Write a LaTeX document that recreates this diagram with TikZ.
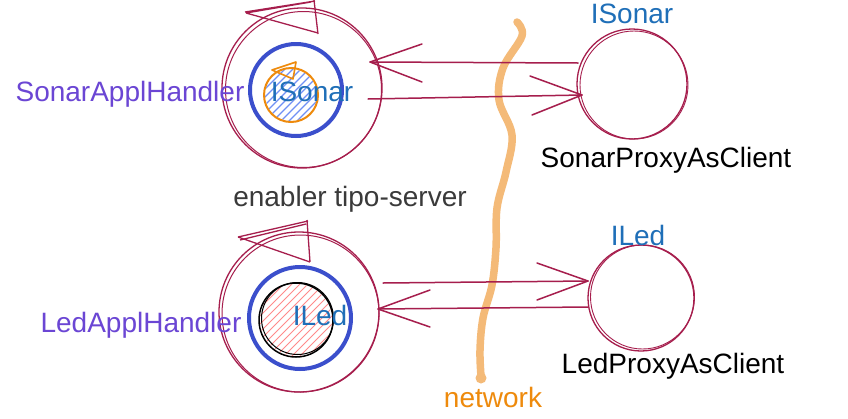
\documentclass[tikz,border=0pt]{standalone}
\usepackage{fontspec}
\setmainfont{Liberation Sans}
\usetikzlibrary{calc}
\definecolor{crim}{HTML}{A61E4D}
\definecolor{bluec}{HTML}{3B4FCC}
\definecolor{lblue}{HTML}{1F6FB8}
\definecolor{purp}{HTML}{6B46D4}
\definecolor{orng}{HTML}{EE8A0C}
\definecolor{netc}{HTML}{F4BA78}
\definecolor{hblue}{HTML}{7090F5}
\definecolor{hred}{HTML}{FF8A8A}
\definecolor{gtxt}{HTML}{3A3A3A}
\begin{document}
\begin{tikzpicture}[x=1pt,y=-1pt,
  font=\fontsize{28}{32}\selectfont,
  ring/.style={circle, draw=crim, line width=1.3pt, inner sep=0pt},
  sk/.style={crim, line width=1.3pt},
  arr/.style={crim, line width=1.5pt, line cap=round},
  lbl/.style={anchor=base, inner sep=0pt},
  hatchb/.style={hblue, line width=1.1pt},
  hatchr/.style={hred, line width=0.9pt}]
\useasboundingbox (0,0) rectangle (848,418);
\fill[white] (0,0) rectangle (848,418);

% ---------- network line ----------
\draw[netc, line width=7.5pt, line cap=round, line join=round]
  plot[smooth, tension=0.6] coordinates {(517,22) (522,36) (503,68) (499,100) (512,135) (506,172) (497,208) (496,248) (492,285) (483,318) (480,350) (481,376)};
\fill[netc] (481,378) circle (5.5);

% ---------- top left : SonarApplHandler ----------
\node[ring, minimum size=160pt] (sh) at (302,88) {};
\draw[sk, line width=1pt] (303.5,89.5) circle (78);
\draw[sk] (246,13) -- (318,33) (246,13) -- (311,2) (314,0) -- (318,34) (245,12) -- (315,1);
\node[circle, draw=bluec, line width=4pt, minimum size=92pt, inner sep=0pt] (sb) at (296,90) {};
\begin{scope}
  \clip (291,95) circle (26);
  \foreach \i in {-64,-56,...,64}
    \draw[hatchb] ({291+\i-40},{95+40}) -- ({291+\i+40},{95-40});
\end{scope}
\node[circle, draw=orng, line width=2pt, minimum size=54pt, inner sep=0pt] (so) at (291,95) {};
\draw[orng, line width=1.6pt, line join=round] (272,70) -- (296,62) -- (293,79) -- cycle;
\node[lbl, text=lblue] (silbl) at (312,101) {ISonar};
\node[lbl, text=purp] (shlbl) at (130,101) {SonarApplHandler};

% ---------- top right : SonarProxyAsClient ----------
\node[ring, minimum size=110pt] (sp) at (632,84) {};
\draw[sk, line width=0.9pt] (634,85) circle (54);
\node[lbl, text=lblue] (sptop) at (632,23) {ISonar};
\node[lbl, text=black] (splbl) at (666,167) {SonarProxyAsClient};

% arrows top
\coordinate (t1s) at (578,63);
\coordinate (t1e) at (370,62);
\draw[arr] (t1s) -- (t1e);
\draw[arr] (t1e) -- (422,44) (t1e) -- (422,82);
\coordinate (t2s) at (368,99);
\coordinate (t2e) at (582,95);
\draw[arr] (t2s) -- (t2e);
\draw[arr] (t2e) -- (530,76) (t2e) -- (532,115);

\node[lbl, text=gtxt] (en) at (350,206) {enabler tipo-server};

% ---------- bottom left : LedApplHandler ----------
\node[ring, minimum size=160pt] (lh) at (299,312) {};
\draw[sk, line width=1pt] (300.5,313.5) circle (78.5);
\draw[sk] (238,237) -- (308,221) (238,237) -- (310,262) (307,220) -- (310,262) (240,240) -- (306,224);
\node[circle, draw=bluec, line width=4pt, minimum size=102pt, inner sep=0pt] (lb) at (300,318) {};
\begin{scope}
  \clip (296,320) circle (36);
  \foreach \i in {-80,-72,...,80}
    \draw[hatchr] ({296+\i-50},{320+50}) -- ({296+\i+50},{320-50});
\end{scope}
\node[circle, draw=black, line width=1.5pt, minimum size=74pt, inner sep=0pt] (lk) at (296,320) {};
\draw[black, line width=1pt] (297.5,318.5) circle (36);
\node[lbl, text=lblue] (illbl) at (320,325) {ILed};
\node[lbl, text=purp] (lhlbl) at (141,332) {LedApplHandler};

% ---------- bottom right : LedProxyAsClient ----------
\node[ring, minimum size=106pt] (lp) at (641,298) {};
\draw[sk, line width=0.9pt] (642.5,297) circle (52);
\node[lbl, text=lblue] (lptop) at (638,245) {ILed};
\node[lbl, text=black] (lplbl) at (673,373) {LedProxyAsClient};

% arrows bottom
\coordinate (b1s) at (383,283);
\coordinate (b1e) at (588,281);
\draw[arr] (b1s) -- (b1e);
\draw[arr] (b1e) -- (537,263) (b1e) -- (537,300);
\coordinate (b2s) at (588,307);
\coordinate (b2e) at (378,309);
\draw[arr] (b2s) -- (b2e);
\draw[arr] (b2e) -- (430,290) (b2e) -- (430,327);

\node[lbl, text=orng] (net) at (493,407) {network};
\end{tikzpicture}
\end{document}
